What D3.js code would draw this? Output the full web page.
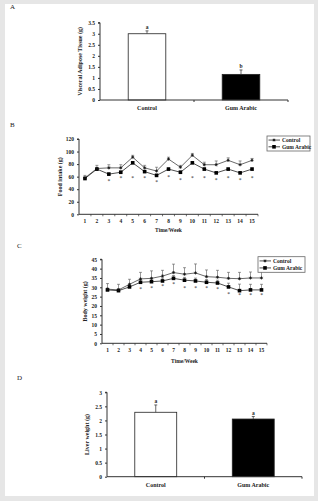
<!DOCTYPE html>
<html>
<head>
<meta charset="utf-8">
<script src="https://cdn.jsdelivr.net/npm/d3@7"></script>
<style>
  html, body { margin: 0; padding: 0; background: #e6e6e6; }
  svg { display: block; }
  text { font-family: "Liberation Serif", "DejaVu Serif", serif; font-weight: bold; fill: #222; }
</style>
</head>
<body>
<script>
// ---- data ----
const groups = ["Control", "Gum Arabic"];
const weeks = d3.range(1, 16);

// A: visceral adipose tissue
const vatMean = [3.0, 1.16];
const vatErr = [0.13, 0.2];
const vatLetters = ["a", "b"];
const vatTicks = [0, 0.5, 1, 1.5, 2, 2.5, 3, 3.5];

// B: food intake
const foodControl = [58, 73, 74, 74, 91, 74, 69, 88, 75, 94, 79, 79, 86, 79, 86];
const foodControlErr = [4, 5, 5, 5, 3, 4, 6, 3, 3, 3, 4, 6, 4, 6, 3];
const foodGum = [57, 72, 64, 67, 82, 68, 62, 72, 67, 82, 72, 66, 72, 66, 72];
const foodGumErr = [2, 2, 2, 2, 2, 2, 2, 2, 2, 2, 2, 2, 2, 2, 2];
const foodStarY = [null, null, 54, 58, 58, 58, 53, 61, 55, 58, 58, 55, 58, 55, 58];
const foodTicks = [0, 20, 40, 60, 80, 100, 120];

// C: body weight
const bodyControl = [29, 28.6, 31.6, 34.5, 34.8, 36, 37.9, 37, 37.7, 35.7, 35.4, 34.8, 34.6, 35, 35];
const bodyControlErr = [3, 3, 2.7, 3.5, 4, 3.1, 4.5, 3.5, 4.8, 3.6, 3.7, 3.2, 3.4, 3.2, 3.5];
const bodyGum = [28.6, 28.2, 30.2, 32.7, 33, 33.4, 34.8, 33.8, 33.4, 32.7, 32.3, 30.2, 28.2, 28.6, 28.6];
const bodyGumErr = [1, 1, 1, 1.5, 1.5, 1.5, 1.5, 1.5, 1.5, 1.5, 1.5, 2, 3.5, 3, 3];
const bodyStarY = [null, null, null, 29.5, 29.8, 30.7, 31.8, 30, 30, 30, 29.5, 26.8, 25.9, 25.9, 25.9];
const bodyTicks = [0, 5, 10, 15, 20, 25, 30, 35, 40, 45];

// D: liver weight
const liverMean = [2.29, 2.05];
const liverErr = [0.26, 0.09];
const liverLetters = ["a", "a"];
const liverTicks = [0, 0.5, 1, 1.5, 2, 2.5, 3];

// ---- page ----
const W = 318, H = 501;
const svg = d3.select("body").append("svg")
    .attr("width", W)
    .attr("height", H);

svg.append("rect")
    .attr("x", 5).attr("y", 4)
    .attr("width", 309).attr("height", 492)
    .attr("fill", "#fff");

const axisColor = "#333";

// panel letters
[["A", 10, 9], ["B", 10, 127], ["C", 17, 248], ["D", 17, 380]].forEach(([t, x, y]) => {
    svg.append("text").attr("x", x).attr("y", y)
        .style("font-size", "7px").style("font-weight", "normal").text(t);
});

// y axis shared helper
function drawYAxis(g, y, ticks, x0, fmt) {
    const ax = d3.axisLeft(y).tickValues(ticks).tickSize(2).tickPadding(3).tickFormat(fmt);
    const a = g.append("g").attr("transform", `translate(${x0},0)`).call(ax);
    a.select(".domain").attr("stroke", axisColor).attr("d", `M-2,${y.range()[1]}H0V${y.range()[0]}`);
    a.selectAll(".tick line").attr("stroke", axisColor);
    a.selectAll(".tick text").style("font-size", "5.5px").style("font-family", "Liberation Serif").attr("fill", "#222");
}

function yTitle(text, cx, cy) {
    svg.append("text")
        .attr("transform", `translate(${cx},${cy}) rotate(-90)`)
        .attr("text-anchor", "middle")
        .style("font-size", "6px")
        .text(text);
}

// ---- bar panels ----
function barPanel(opts) {
    const { means, errs, letters, ticks, dom, x0, x1, y0, y1, title, titleX, pad } = opts;
    const y = d3.scaleLinear().domain(dom).range([y0, y1]);
    const x = d3.scaleBand().domain(groups).range([x0, x1]).paddingInner(pad).paddingOuter(pad / 2);
    const g = svg.append("g");

    g.selectAll(".bar").data(groups).enter().append("rect")
        .attr("x", d => x(d))
        .attr("y", (d, i) => y(means[i]))
        .attr("width", x.bandwidth())
        .attr("height", (d, i) => y0 - y(means[i]))
        .attr("fill", (d, i) => i === 0 ? "#fff" : "#000")
        .attr("stroke", "#222")
        .attr("stroke-width", 0.8);

    // error bars
    g.selectAll(".err").data(groups).enter().append("path")
        .attr("d", (d, i) => {
            const cx = x(d) + x.bandwidth() / 2;
            const top = y(means[i] + errs[i]);
            return `M${cx},${y(means[i])}V${top}M${cx - 1.5},${top}H${cx + 1.5}`;
        })
        .attr("stroke", i => "#444")
        .attr("stroke-width", 0.8)
        .attr("fill", "none");

    g.selectAll(".letter").data(groups).enter().append("text")
        .attr("x", d => x(d) + x.bandwidth() / 2)
        .attr("y", (d, i) => y(means[i] + errs[i]) - 1.5)
        .attr("text-anchor", "middle")
        .style("font-size", "5.5px")
        .text((d, i) => letters[i]);

    drawYAxis(g, y, ticks, x0, d => d);

    // x axis
    g.append("path")
        .attr("d", `M${x0},${y0}H${x1}`)
        .attr("stroke", axisColor).attr("stroke-width", 1);
    g.selectAll(".xt").data([x0 + (x1 - x0) / 2, x1]).enter().append("path")
        .attr("d", d => `M${d},${y0}v2`)
        .attr("stroke", axisColor);

    g.selectAll(".xl").data(groups).enter().append("text")
        .attr("x", d => x(d) + x.bandwidth() / 2)
        .attr("y", y0 + 10)
        .attr("text-anchor", "middle")
        .style("font-size", "6px")
        .text(d => d);

    yTitle(title, titleX, (y0 + y1) / 2);
}

barPanel({
    means: vatMean, errs: vatErr, letters: vatLetters, ticks: vatTicks,
    dom: [0, 3.5], x0: 100, x1: 288, y0: 100, y1: 22.7,
    title: "Visceral Adipose Tissue (g)", titleX: 82, pad: 0.6
});

barPanel({
    means: liverMean, errs: liverErr, letters: liverLetters, ticks: liverTicks,
    dom: [0, 3], x0: 107, x1: 302, y0: 476.7, y1: 392.3,
    title: "Liver weight (g)", titleX: 89, pad: 0.57
});

// ---- line panels ----
function starMarker(g, cx, cy) {
    g.append("path")
        .attr("d", `M${cx - 1.6},${cy}H${cx + 1.6}M${cx},${cy - 1.6}V${cy + 1.6}M${cx - 1.1},${cy - 1.1}L${cx + 1.1},${cy + 1.1}M${cx - 1.1},${cy + 1.1}L${cx + 1.1},${cy - 1.1}`)
        .attr("stroke", "#111").attr("stroke-width", 0.7);
}

function linePanel(opts) {
    const { ctrl, ctrlErr, gum, gumErr, stars, ticks, dom, x0, x1, y0, y1, title, titleX, xTitleY, legend } = opts;
    const y = d3.scaleLinear().domain(dom).range([y0, y1]);
    const x = d3.scaleBand().domain(weeks).range([x0, x1]);
    const cx = d => x(d) + x.bandwidth() / 2;
    const g = svg.append("g");

    const line = d3.line().x((d, i) => cx(weeks[i])).y(d => y(d));

    // error bars (drawn under the lines)
    [[gum, gumErr], [ctrl, ctrlErr]].forEach(([m, e]) => {
        g.selectAll(null).data(weeks).enter().append("path")
            .attr("d", (d, i) => {
                const top = y(m[i] + e[i]);
                return `M${cx(d)},${y(m[i])}V${top}M${cx(d) - 1.5},${top}H${cx(d) + 1.5}`;
            })
            .attr("stroke", "#555").attr("stroke-width", 0.6).attr("fill", "none");
    });

    g.append("path").datum(ctrl).attr("d", line)
        .attr("fill", "none").attr("stroke", "#444").attr("stroke-width", 0.8);
    g.append("path").datum(gum).attr("d", line)
        .attr("fill", "none").attr("stroke", "#222").attr("stroke-width", 0.8);

    g.selectAll(".sq").data(weeks).enter().append("rect")
        .attr("x", (d) => cx(d) - 1.8)
        .attr("y", (d, i) => y(gum[i]) - 1.8)
        .attr("width", 3.6).attr("height", 3.6)
        .attr("fill", "#000");
    weeks.forEach((d, i) => starMarker(g, cx(d), y(ctrl[i])));

    g.selectAll(".star").data(weeks.filter((d, i) => stars[i] !== null)).enter().append("text")
        .attr("x", d => cx(d))
        .attr("y", d => y(stars[d - 1]) + 2.5)
        .attr("text-anchor", "middle")
        .style("font-size", "5.5px").style("font-weight", "normal")
        .text("*");

    drawYAxis(g, y, ticks, x0, d => d);

    // x axis with ticks at category boundaries
    g.append("path").attr("d", `M${x0},${y0}H${x1}`).attr("stroke", axisColor).attr("stroke-width", 1);
    g.selectAll(".xt").data(weeks).enter().append("path")
        .attr("d", d => `M${x(d) + x.bandwidth()},${y0}v2`)
        .attr("stroke", axisColor).attr("stroke-width", 0.7);
    g.selectAll(".xl").data(weeks).enter().append("text")
        .attr("x", d => cx(d))
        .attr("y", y0 + 9)
        .attr("text-anchor", "middle")
        .style("font-size", "5.5px")
        .text(d => d);

    svg.append("text")
        .attr("x", (x0 + x1) / 2).attr("y", xTitleY)
        .attr("text-anchor", "middle")
        .style("font-size", "5.5px")
        .text("Time/Week");

    yTitle(title, titleX, (y0 + y1) / 2);

    // legend
    const { lx, ly, lw, lh } = legend;
    const lg = svg.append("g");
    lg.append("rect").attr("x", lx).attr("y", ly).attr("width", lw).attr("height", lh)
        .attr("fill", "#fff").attr("stroke", "#666").attr("stroke-width", 0.8);
    groups.forEach((name, i) => {
        const yy = ly + lh * (i === 0 ? 0.27 : 0.72);
        lg.append("path").attr("d", `M${lx + 1.5},${yy}H${lx + 13}`)
            .attr("stroke", "#222").attr("stroke-width", 0.8);
        if (i === 0) starMarker(lg, lx + 7, yy);
        else lg.append("rect").attr("x", lx + 5.2).attr("y", yy - 1.8).attr("width", 3.6).attr("height", 3.6).attr("fill", "#000");
        lg.append("text").attr("x", lx + 15).attr("y", yy + 2)
            .style("font-size", "5.5px").text(name);
    });
}

linePanel({
    ctrl: foodControl, ctrlErr: foodControlErr, gum: foodGum, gumErr: foodGumErr,
    stars: foodStarY, ticks: foodTicks, dom: [0, 120],
    x0: 79, x1: 258, y0: 214.3, y1: 139,
    title: "Food intake (g)", titleX: 62, xTitleY: 232,
    legend: { lx: 267, ly: 136, lw: 43, lh: 15 }
});

linePanel({
    ctrl: bodyControl, ctrlErr: bodyControlErr, gum: bodyGum, gumErr: bodyGumErr,
    stars: bodyStarY, ticks: bodyTicks, dom: [0, 45],
    x0: 102, x1: 267, y0: 343.3, y1: 259.3,
    title: "Body weight (g)", titleX: 87, xTitleY: 362.5,
    legend: { lx: 258, ly: 256.7, lw: 47, lh: 15.6 }
});
</script>
</body>
</html>
